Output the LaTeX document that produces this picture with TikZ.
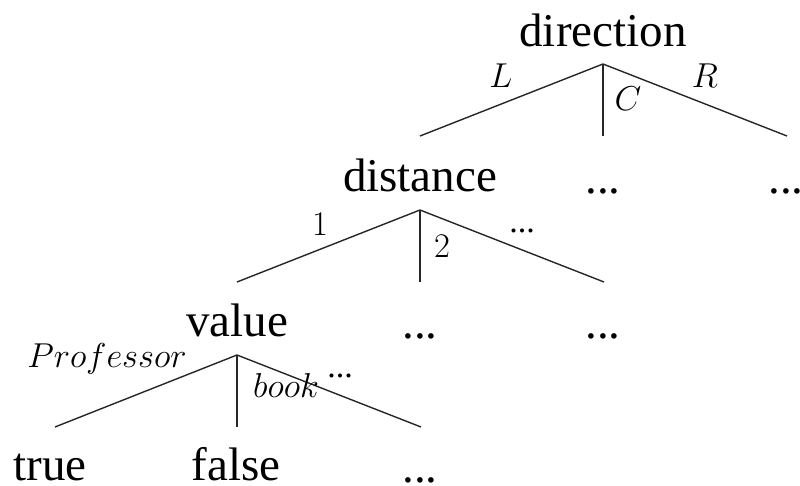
\documentclass[tikz,border=0pt]{standalone}
\usepackage{fontspec}
\setmainfont{Liberation Serif}
\begin{document}
\begin{tikzpicture}[x=0.5pt,y=-0.5pt,
  word/.style={anchor=base,inner sep=0pt,font=\fontsize{23.5}{26}\selectfont},
  lab/.style={anchor=center,inner sep=0pt,font=\fontsize{16.5}{18}\selectfont},
  blab/.style={anchor=base,inner sep=0pt,font=\fontsize{18.5}{20}\selectfont},
  dlab/.style={anchor=base,inner sep=0pt,font=\fontsize{17}{18}\selectfont},
  branch/.style={line width=0.7pt,black!85}]
\useasboundingbox (0,0) rectangle (800,486);
% level 1
\node[word] (dir) at (603,47) {direction};
\coordinate (dirA) at (603,64);
\coordinate (dirL) at (420,136);
\coordinate (dirC) at (603,136);
\coordinate (dirR) at (787,136);
\draw[branch] (dirA) -- (dirL);
\draw[branch] (dirA) -- (dirC);
\draw[branch] (dirA) -- (dirR);
\node[lab] (lL) at (501,76) {$L$};
\node[lab] (lC) at (628,99) {$C$};
\node[lab] (lR) at (705,76) {$R$};
% level 2
\node[word] (dist) at (420,192) {distance};
\node[word] (d2) at (603,194) {...};
\node[word] (d3) at (786,194) {...};
\coordinate (distA) at (420,210);
\coordinate (distL) at (237,282);
\coordinate (distC) at (420,282);
\coordinate (distR) at (604,282);
\draw[branch] (distA) -- (distL);
\draw[branch] (distA) -- (distC);
\draw[branch] (distA) -- (distR);
\node[lab] (l1) at (320,224) {$1$};
\node[lab] (l2) at (442,246) {$2$};
\node[dlab] (l3) at (522,233) {...};
% level 3
\node[word] (val) at (237,337) {value};
\node[word] (v2) at (420,339) {...};
\node[word] (v3) at (603,339) {...};
\coordinate (valA) at (237,355);
\coordinate (valL) at (55,427);
\coordinate (valC) at (237,427);
\coordinate (valR) at (421,427);
\draw[branch] (valA) -- (valL);
\draw[branch] (valA) -- (valC);
\draw[branch] (valA) -- (valR);
\node[blab] (lP) at (107,368) {$Professor$};
\node[blab] (lb) at (286,398) {$book$};
\node[dlab] (lv3) at (340,378) {...};
% level 4
\node[word] (tr) at (50,481) {true};
\node[word] (fa) at (236,481) {false};
\node[word] (f3) at (420,483) {...};
\end{tikzpicture}
\end{document}
